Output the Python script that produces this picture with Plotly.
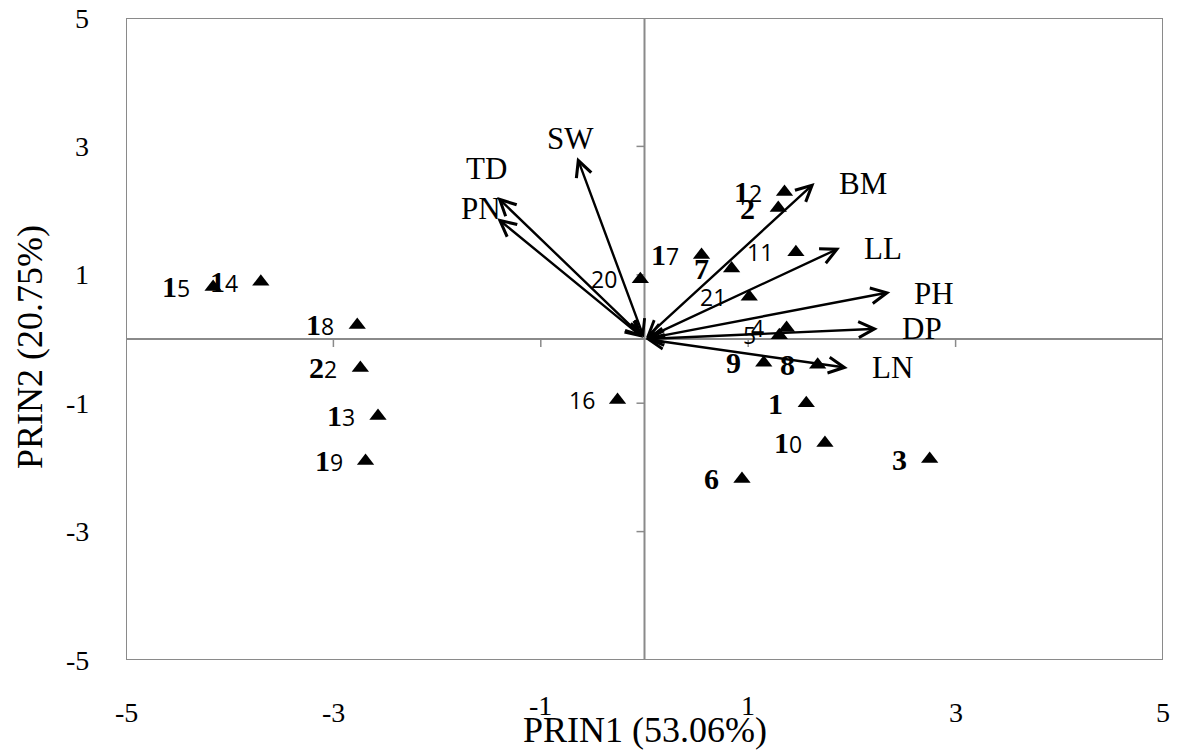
import plotly.graph_objects as go

# ---------------- data ----------------
point_ids = ["1", "2", "3", "4", "5", "6", "7", "8", "9", "10", "11",
             "12", "13", "14", "15", "16", "17", "18", "19", "20", "21", "22"]
prin1 = [1.56, 1.29, 2.75, 1.37, 1.30, 0.94, 0.84, 1.67, 1.15, 1.74, 1.46,
         1.35, -2.57, -3.70, -4.16, -0.26, 0.55, -2.77, -2.69, -0.04, 1.01, -2.74]
prin2 = [-1.00, 2.04, -1.87, 0.17, 0.06, -2.18, 1.10, -0.40, -0.37, -1.62, 1.35,
         2.29, -1.20, 0.89, 0.81, -0.95, 1.31, 0.22, -1.90, 0.93, 0.66, -0.45]

var_names = ["SW", "TD", "PN", "BM", "LL", "PH", "DP", "LN"]
var_prin1 = [-0.65, -1.42, -1.42, 1.64, 1.885, 2.37, 2.25, 1.96]
var_prin2 = [2.83, 2.21, 1.88, 2.43, 1.42, 0.73, 0.16, -0.45]

x_ticks = [-5, -3, -1, 1, 3, 5]
y_ticks = [-5, -3, -1, 1, 3, 5]
x_title = "PRIN1 (53.06%)"
y_title = "PRIN2 (20.75%)"

# ---------------- styling ----------------
SERIF = "Liberation Serif"
SANS = "Open Sans"
GRAY = "#8a8a8a"
# number of leading characters drawn in bold serif for each label
bold_lead = {"1": 1, "2": 1, "3": 1, "6": 1, "7": 1, "8": 1, "9": 1,
             "10": 1, "12": 1, "13": 1, "14": 1, "15": 1, "17": 1,
             "18": 1, "19": 1, "22": 1}
# label offsets (px) relative to arrow tips
var_label_pos = {
    "SW": dict(xanchor="center", xshift=-7, yshift=19),
    "TD": dict(xanchor="center", xshift=-11, yshift=29),
    "PN": dict(xanchor="center", xshift=-16, yshift=10),
    "BM": dict(xanchor="left", xshift=22, yshift=-1),
    "LL": dict(xanchor="left", xshift=22, yshift=-1),
    "PH": dict(xanchor="left", xshift=22, yshift=-1),
    "DP": dict(xanchor="left", xshift=22, yshift=0),
    "LN": dict(xanchor="left", xshift=22, yshift=0),
}


def label_html(s):
    n = bold_lead.get(s, 0)
    out = ""
    if n:
        out += ("<span style='font-family:Liberation Serif;font-size:30px;"
                "font-weight:bold'>" + s[:n] + "</span>")
    out += s[n:]
    return out


fig = go.Figure()

# points
fig.add_trace(go.Scatter(
    x=prin1, y=prin2, mode="markers",
    marker=dict(symbol="triangle-up", size=15, color="black"),
    hoverinfo="skip", showlegend=False))

annotations = []
for pid, px, py in zip(point_ids, prin1, prin2):
    annotations.append(dict(
        x=px, y=py, xref="x", yref="y", text=label_html(pid),
        showarrow=False, xanchor="right", yanchor="middle", xshift=-21,
        font=dict(family=SANS, size=23, color="black")))

# variable vectors
for name, vx, vy in zip(var_names, var_prin1, var_prin2):
    annotations.append(dict(
        x=vx, y=vy, ax=0, ay=0, xref="x", yref="y", axref="x", ayref="y",
        text="", showarrow=True, arrowhead=5, startarrowhead=5,
        arrowside="end+start", arrowsize=1.3, startarrowsize=1.2,
        arrowwidth=2.4, arrowcolor="black", standoff=0, startstandoff=0))
    pos = var_label_pos[name]
    annotations.append(dict(
        x=vx, y=vy, xref="x", yref="y", text=name, showarrow=False,
        yanchor="middle", font=dict(family=SERIF, size=31, color="black"), **pos))

# tick labels
for t in x_ticks:
    annotations.append(dict(
        x=t, y=0, xref="x", yref="paper", text=str(t), showarrow=False,
        xanchor="center", yanchor="middle",
        yshift=(-45 if abs(t) == 1 else -52),
        font=dict(family=SERIF, size=28, color="black")))
for t in y_ticks:
    annotations.append(dict(
        x=0, y=t, xref="paper", yref="y", text=str(t), showarrow=False,
        xanchor="right", yanchor="middle", xshift=-35,
        font=dict(family=SERIF, size=28, color="black")))

# axis titles
annotations.append(dict(
    x=0.5, y=0, xref="paper", yref="paper", text=x_title, showarrow=False,
    xanchor="center", yanchor="middle", yshift=-70,
    font=dict(family=SERIF, size=36, color="black")))
annotations.append(dict(
    x=0, y=0.5, xref="paper", yref="paper", text=y_title, showarrow=False,
    xanchor="center", yanchor="middle", xshift=-96, yshift=-8, textangle=-90,
    font=dict(family=SERIF, size=36, color="black")))

shapes = []
# frame
shapes.append(dict(type="rect", xref="x", yref="y", x0=-5, x1=5, y0=-5, y1=5,
                   line=dict(color=GRAY, width=2), layer="below"))
# cross axes
shapes.append(dict(type="line", xref="x", yref="y", x0=-5, x1=5, y0=0, y1=0,
                   line=dict(color=GRAY, width=2), layer="below"))
shapes.append(dict(type="line", xref="x", yref="y", x0=0, x1=0, y0=-5, y1=5,
                   line=dict(color=GRAY, width=2), layer="below"))
# tick marks
for t in x_ticks[1:-1]:
    shapes.append(dict(type="line", xref="x", yref="y", ysizemode="pixel",
                       yanchor=0, x0=t, x1=t, y0=0, y1=-8,
                       line=dict(color=GRAY, width=1.5), layer="below"))
for t in y_ticks[1:-1]:
    shapes.append(dict(type="line", xref="x", yref="y", xsizemode="pixel",
                       xanchor=0, x0=-8, x1=0, y0=t, y1=t,
                       line=dict(color=GRAY, width=1.5), layer="below"))

fig.update_layout(
    width=1185, height=752,
    margin=dict(l=126, r=22, t=18, b=92),
    paper_bgcolor="white", plot_bgcolor="white",
    xaxis=dict(range=[-5, 5], showgrid=False, zeroline=False, showline=False,
               showticklabels=False, ticks=""),
    yaxis=dict(range=[-5, 5], showgrid=False, zeroline=False, showline=False,
               showticklabels=False, ticks=""),
    annotations=annotations, shapes=shapes, showlegend=False,
)

fig.write_html("out.html")
